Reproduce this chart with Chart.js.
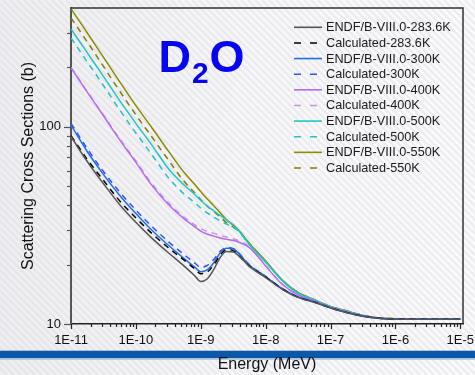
<!DOCTYPE html>
<html><head><meta charset="utf-8">
<script src="https://cdn.jsdelivr.net/npm/chart.js@4.4.1/dist/chart.umd.min.js"></script>
<style>html,body{margin:0;padding:0;background:#fff;overflow:hidden}#wrap{width:475px;height:375px;position:relative}</style>
</head><body><div id="wrap"><canvas id="c" width="475" height="375"></canvas></div>
<script>
// Energy grid (MeV)
const energy = [1e-11, 1.8e-11, 3.2e-11, 5.6e-11, 1e-10, 1.8e-10, 3.2e-10, 5.6e-10, 8e-10, 1e-9, 1.25e-9, 1.6e-9, 2e-9, 2.5e-9, 3.2e-9, 4e-9, 5.6e-9, 1e-8, 1.8e-8, 3.2e-8, 5.6e-8, 1e-7, 1.8e-7, 3.2e-7, 5.6e-7, 1e-6, 3.2e-6, 1e-5];

// Scattering cross sections (b)
const endf283 = [89, 66.3, 51.2, 40.4, 32.8, 27.1, 22.9, 19.6, 17.6, 16.4, 16.9, 19.0, 21.8, 23.3, 23.2, 21.9, 19.6, 17.2, 15.0, 13.6, 12.9, 12.05, 11.4, 10.95, 10.68, 10.6, 10.57, 10.56];
const calc283 = [90, 68, 53.2, 42.2, 34.5, 28.6, 24.3, 21.0, 19.1, 18.0, 18.3, 20.0, 22.4, 23.8, 23.5, 22.0, 19.7, 17.3, 15.05, 13.65, 12.92, 12.07, 11.42, 10.96, 10.69, 10.61, 10.58, 10.57];
const endf300 = [102, 74.5, 57, 45, 36.3, 29.7, 25.0, 21.4, 19.5, 18.4, 18.8, 20.5, 23.0, 24.2, 24.0, 22.5, 19.9, 17.4, 15.1, 13.7, 12.95, 12.1, 11.43, 10.96, 10.69, 10.6, 10.57, 10.56];
const calc300 = [104, 77, 59, 46.8, 37.8, 31.0, 26.1, 22.4, 20.4, 19.4, 19.8, 21.3, 23.4, 24.4, 24.1, 22.6, 20.0, 17.45, 15.1, 13.7, 12.95, 12.1, 11.43, 10.96, 10.69, 10.6, 10.57, 10.56];
const endf400 = [198.6, 149, 113, 86, 66, 50, 40.2, 34, 31.2, 29.6, 28.6, 27.9, 27.3, 26.9, 26.5, 25.9, 24.4, 19.7, 15.9, 14.0, 13.1, 12.15, 11.5, 11.0, 10.7, 10.62, 10.58, 10.58];
const calc400 = [200, 150, 114, 87, 67, 51, 41, 34.6, 31.9, 30.4, 29.5, 28.8, 28.1, 27.6, 27.0, 26.3, 24.6, 19.8, 15.95, 14.0, 13.1, 12.15, 11.5, 11.0, 10.7, 10.62, 10.58, 10.58];
const endf500 = [313, 236, 179, 136, 104, 80, 61, 50.5, 45.5, 42.3, 39.7, 37.4, 35.5, 33.6, 31.5, 29.3, 25.3, 20.6, 16.6, 14.3, 13.25, 12.25, 11.6, 11.03, 10.72, 10.63, 10.6, 10.6];
const calc500 = [282, 212, 161, 122, 93, 71.5, 55, 45.5, 41.3, 38.7, 36.6, 34.8, 33.3, 32.1, 30.8, 29.1, 25.2, 20.6, 16.6, 14.3, 13.25, 12.25, 11.6, 11.03, 10.72, 10.63, 10.6, 10.6];
const endf550 = [397, 298, 224, 169.5, 128, 98, 75, 58.4, 51.2, 46.9, 43.1, 39.7, 36.6, 33.8, 31.7, 29.4, 25.7, 20.9, 16.7, 14.4, 13.3, 12.27, 11.64, 11.04, 10.73, 10.64, 10.6, 10.6];
const calc550 = [356, 268, 201, 152, 115, 88, 67.5, 52.6, 46.3, 42.7, 39.6, 37.1, 34.8, 32.6, 31.0, 29.2, 25.6, 20.8, 16.7, 14.4, 13.3, 12.27, 11.64, 11.04, 10.73, 10.64, 10.6, 10.6];

const seriesNames = ['ENDF/B-VIII.0-283.6K','Calculated-283.6K','ENDF/B-VIII.0-300K','Calculated-300K','ENDF/B-VIII.0-400K','Calculated-400K','ENDF/B-VIII.0-500K','Calculated-500K','ENDF/B-VIII.0-550K','Calculated-550K'];
const seriesValues = [endf283, calc283, endf300, calc300, endf400, calc400, endf500, calc500, endf550, calc550];

// Axis ticks
const xMajorTicks = [1e-11, 1e-10, 1e-9, 1e-8, 1e-7, 1e-6, 1e-5];
const xMinorMultipliers = [2, 3, 4, 5, 6, 7, 8, 9];
const yMajorTicks = [10, 100];
const yMinorTicks = [20, 30, 40, 50, 60, 70, 80, 90, 200, 300];

const colors = ['#555555','#000000','#1f6fe3','#3150ff','#b56bee','#c790f4','#1ec6c6','#22c2c8','#8c8c00','#877d00'];
const dashedFlags = [false,true,false,true,false,true,false,true,false,true];

const FONT = '"Liberation Sans", Arial, Helvetica, sans-serif';

const datasets = seriesValues.map((vals, i) => ({
  label: seriesNames[i],
  data: energy.map((e, j) => ({x: e, y: vals[j]})),
  borderColor: colors[i],
  backgroundColor: colors[i],
  borderWidth: 1.5,
  borderDash: dashedFlags[i] ? [6, 5] : [],
  pointRadius: 0,
  fill: false,
  cubicInterpolationMode: 'monotone'
}));

const bgPlugin = {
  id: 'bg',
  beforeDraw(chart) {
    const ctx = chart.ctx, W = chart.width, H = chart.height;
    ctx.save();
    const g = ctx.createLinearGradient(0, 0, W, 0);
    g.addColorStop(0, '#efeff2');
    g.addColorStop(0.5, '#f8f8fa');
    g.addColorStop(1, '#fbfbfc');
    ctx.fillStyle = g;
    ctx.fillRect(0, 0, W, H);
    ctx.strokeStyle = 'rgba(205,205,215,0.3)';
    ctx.lineWidth = 2.5;
    for (let k = -H; k < W + H; k += 7) {
      ctx.beginPath();
      ctx.moveTo(k, 0);
      ctx.lineTo(k + H, H);
      ctx.stroke();
    }
    ctx.fillStyle = '#0b57a8';
    ctx.fillRect(0, 350.7, W, 7.6);
    ctx.fillStyle = '#a9c3e2';
    ctx.fillRect(0, 358.3, W, 1.5);
    ctx.restore();
  }
};

const decorPlugin = {
  id: 'decor',
  afterDraw(chart) {
    const ctx = chart.ctx, a = chart.chartArea;
    const xs = chart.scales.x, ys = chart.scales.y;
    ctx.save();
    ctx.strokeStyle = '#333';
    ctx.lineWidth = 1.5;
    ctx.beginPath();
    ctx.moveTo(a.left, a.top); ctx.lineTo(a.right, a.top); ctx.lineTo(a.right, a.bottom);
    ctx.stroke();
    ctx.strokeStyle = '#222';
    ctx.lineWidth = 1.2;
    xMajorTicks.forEach(v => {
      const px = Math.round(xs.getPixelForValue(v)) + 0.5;
      ctx.beginPath(); ctx.moveTo(px, a.bottom); ctx.lineTo(px, a.bottom + 5); ctx.stroke();
      if (v < 1e-5) {
        xMinorMultipliers.forEach(m => {
          const p = Math.round(xs.getPixelForValue(v * m)) + 0.5;
          ctx.beginPath(); ctx.moveTo(p, a.bottom); ctx.lineTo(p, a.bottom + 3); ctx.stroke();
        });
      }
    });
    ctx.strokeStyle = '#555';
    yMajorTicks.forEach(v => {
      const py = Math.round(ys.getPixelForValue(v)) + 0.5;
      ctx.beginPath(); ctx.moveTo(a.left, py); ctx.lineTo(a.left - 7, py); ctx.stroke();
    });
    yMinorTicks.forEach(v => {
      const py = Math.round(ys.getPixelForValue(v)) + 0.5;
      ctx.beginPath(); ctx.moveTo(a.left, py); ctx.lineTo(a.left - 4, py); ctx.stroke();
    });
    const lx0 = 294, lx1 = 322, ltx = 326, ly0 = 27.3, ldy = 15.63;
    ctx.font = '12.7px ' + FONT;
    ctx.textBaseline = 'middle';
    ctx.textAlign = 'left';
    chart.data.datasets.forEach((ds, i) => {
      const y = ly0 + i * ldy;
      ctx.strokeStyle = ds.borderColor;
      ctx.lineWidth = 1.6;
      const dashed = ds.borderDash.length > 0;
      ctx.setLineDash(dashed ? [7, 9] : []);
      ctx.beginPath(); ctx.moveTo(lx0, y); ctx.lineTo(dashed ? 317 : lx1, y); ctx.stroke();
      ctx.setLineDash([]);
      ctx.fillStyle = '#1a1a1a';
      ctx.fillText(ds.label, ltx, y + 0.5);
    });
    ctx.fillStyle = '#0505f2';
    ctx.textBaseline = 'alphabetic';
    ctx.font = 'bold 45px ' + FONT;
    ctx.fillText('D', 158.5, 71.7);
    ctx.font = 'bold 30px ' + FONT;
    ctx.fillText('2', 192, 83.3);
    ctx.font = 'bold 45px ' + FONT;
    ctx.fillText('O', 209.5, 72);
    ctx.restore();
  }
};

new Chart(document.getElementById('c'), {
  type: 'line',
  data: { datasets },
  options: {
    responsive: false,
    animation: false,
    devicePixelRatio: 1,
    layout: { padding: { left: 0, top: 8, right: 12, bottom: 0 } },
    plugins: { legend: { display: false }, title: { display: false }, tooltip: { enabled: false } },
    scales: {
      x: {
        type: 'logarithmic',
        position: 'bottom',
        min: 1e-11,
        max: 1.1e-5,
        afterBuildTicks: s => { s.ticks = xMajorTicks.map(v => ({ value: v })); },
        afterFit: s => { s.height = 51; s.paddingLeft = 0; s.paddingRight = 0; },
        grid: { display: true, drawOnChartArea: false, drawTicks: false },
        border: { display: true, color: '#222', width: 1.5 },
        ticks: {
          autoSkip: false, maxRotation: 0, padding: 9, color: '#111',
          font: { family: FONT, size: 13 },
          callback: v => '1E' + Math.round(Math.log10(v))
        },
        title: { display: true, text: 'Energy (MeV)', color: '#111', font: { family: FONT, size: 16 }, padding: { top: 0, bottom: 0.4 } }
      },
      y: {
        type: 'logarithmic',
        min: 10,
        max: 400,
        afterBuildTicks: s => { s.ticks = yMajorTicks.map(v => ({ value: v })); },
        afterFit: s => { s.width = 71; s.paddingTop = 0; s.paddingBottom = 0; },
        grid: { display: true, drawOnChartArea: false, drawTicks: false },
        border: { display: true, color: '#555', width: 2 },
        ticks: {
          autoSkip: false, padding: 10, color: '#111',
          font: { family: FONT, size: 13 },
          callback: v => String(v)
        },
        title: { display: true, text: 'Scattering Cross Sections (b)', color: '#111', font: { family: FONT, size: 16 }, padding: { top: 18.5, bottom: 0 } }
      }
    }
  },
  plugins: [bgPlugin, decorPlugin]
});
</script>
</body></html>
